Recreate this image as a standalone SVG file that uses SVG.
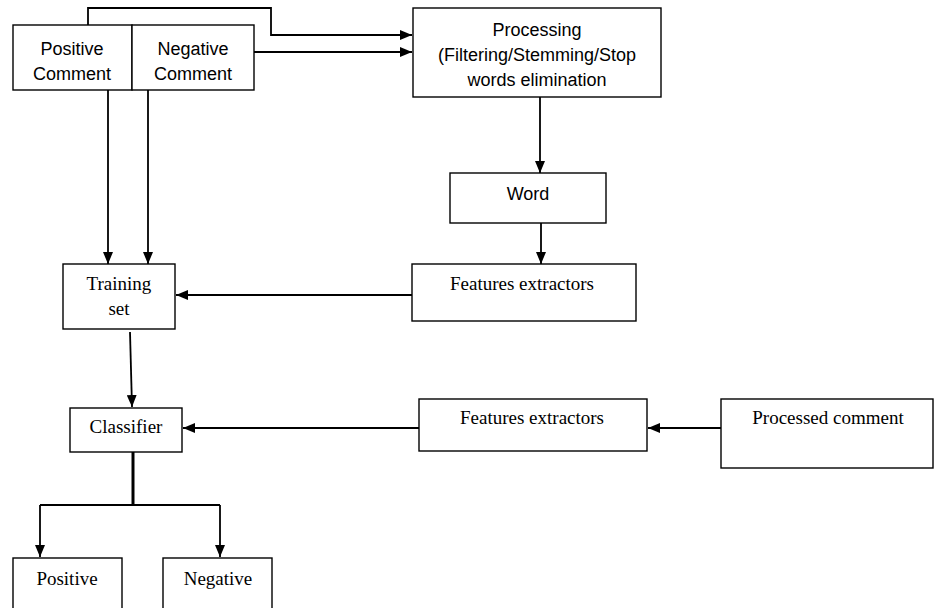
<svg xmlns="http://www.w3.org/2000/svg" width="935" height="608" viewBox="0 0 935 608">
<style>
.box{fill:#fff;stroke:#000;stroke-width:1.4}
.ln{fill:none;stroke:#000;stroke-width:1.8}
.sans{font-family:"Liberation Sans",Arial,sans-serif;font-size:18px;fill:#000;text-anchor:middle}
.serif{font-family:"Liberation Serif","Times New Roman",serif;font-size:19px;fill:#000;text-anchor:middle}
</style>
<defs>
<marker id="ah" markerWidth="12" markerHeight="10" viewBox="0 0 12 10" refX="12" refY="5" orient="auto" markerUnits="userSpaceOnUse">
<path d="M0,0 L12,5 L0,10 Z" fill="#000"/>
</marker>
</defs>
<rect width="935" height="608" fill="#fff"/>
<g id="connectors">
<path class="ln" d="M88,25 V8 H271 V35 H412" marker-end="url(#ah)"/>
<path class="ln" d="M254,52 H412" marker-end="url(#ah)"/>
<path class="ln" d="M108,90 V264" marker-end="url(#ah)"/>
<path class="ln" d="M148,90 V264" marker-end="url(#ah)"/>
<path class="ln" d="M540,97 V173" marker-end="url(#ah)"/>
<path class="ln" d="M541,223 V264" marker-end="url(#ah)"/>
<path class="ln" d="M412,295 H176" marker-end="url(#ah)"/>
<path class="ln" d="M130,332 L132,407" marker-end="url(#ah)"/>
<path class="ln" d="M419,428 H183" marker-end="url(#ah)"/>
<path class="ln" d="M721,428 H648" marker-end="url(#ah)"/>
<path fill="none" stroke="#000" stroke-width="3" d="M133,452 V505"/>
<path class="ln" d="M40,505 H220"/>
<path class="ln" d="M40,505 V557" marker-end="url(#ah)"/>
<path class="ln" d="M220,505 V557" marker-end="url(#ah)"/>
</g>
<g id="positive-comment">
<rect class="box" x="13" y="25" width="119" height="65"/>
<text class="sans" x="72" y="55">Positive</text>
<text class="sans" x="72" y="80">Comment</text>
</g>
<g id="negative-comment">
<rect class="box" x="132" y="25" width="122" height="65"/>
<text class="sans" x="193" y="55">Negative</text>
<text class="sans" x="193" y="80">Comment</text>
</g>
<g id="processing">
<rect class="box" x="413" y="8" width="248" height="89"/>
<text class="sans" x="537" y="36">Processing</text>
<text class="sans" x="537" y="61">(Filtering/Stemming/Stop</text>
<text class="sans" x="537" y="86">words elimination</text>
</g>
<g id="word">
<rect class="box" x="450" y="173" width="156" height="50"/>
<text class="sans" x="528" y="200">Word</text>
</g>
<g id="features-extractors-1">
<rect class="box" x="412" y="264" width="224" height="57"/>
<text class="serif" x="522" y="290">Features extractors</text>
</g>
<g id="training-set">
<rect class="box" x="63" y="264" width="112" height="65"/>
<text class="serif" x="119" y="290">Training</text>
<text class="serif" x="119" y="315">set</text>
</g>
<g id="classifier">
<rect class="box" x="70" y="408" width="112" height="44"/>
<text class="serif" x="126" y="433">Classifier</text>
</g>
<g id="features-extractors-2">
<rect class="box" x="419" y="399" width="228" height="52"/>
<text class="serif" x="532" y="424">Features extractors</text>
</g>
<g id="processed-comment">
<rect class="box" x="721" y="399" width="212" height="69"/>
<text class="serif" x="828" y="424">Processed comment</text>
</g>
<g id="positive">
<rect class="box" x="13" y="558" width="109" height="55"/>
<text class="serif" x="67" y="585">Positive</text>
</g>
<g id="negative">
<rect class="box" x="163" y="558" width="109" height="55"/>
<text class="serif" x="218" y="585">Negative</text>
</g>
</svg>
